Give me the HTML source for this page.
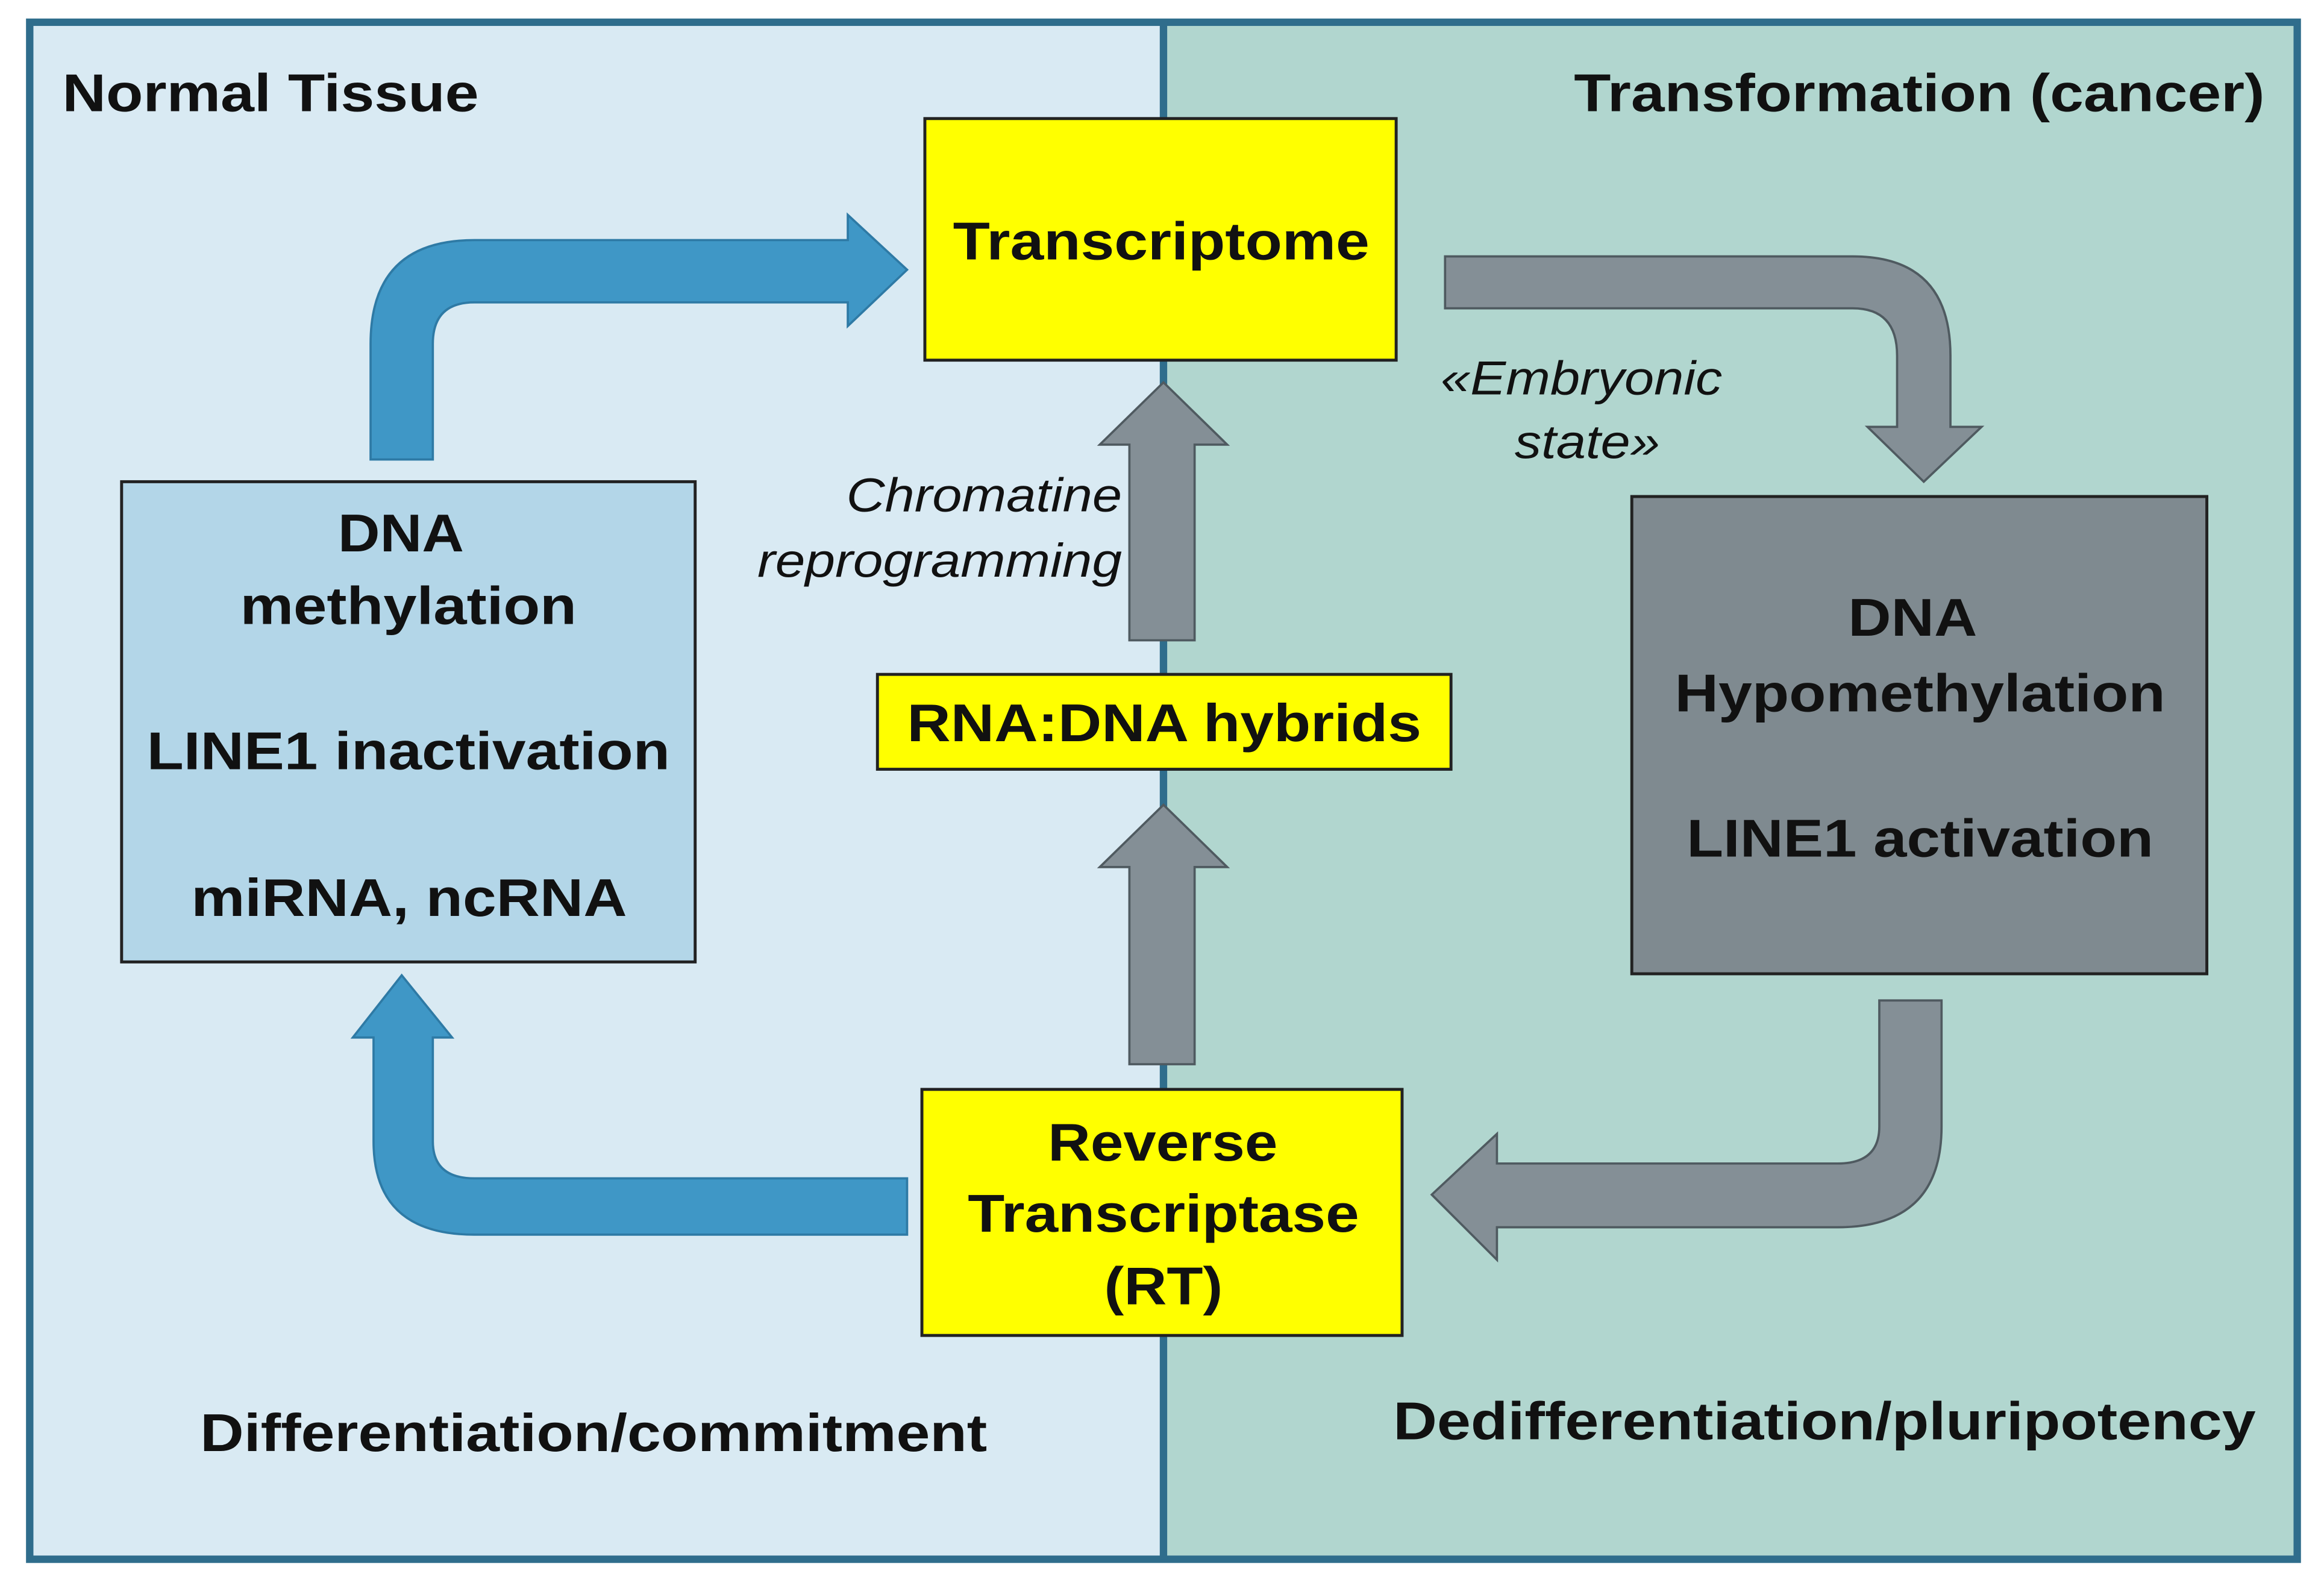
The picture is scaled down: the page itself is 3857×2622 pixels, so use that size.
<!DOCTYPE html>
<html><head><meta charset="utf-8"><style>
html,body{margin:0;padding:0;background:#fff;}
svg{display:block;}
text{font-family:"Liberation Sans","DejaVu Sans",sans-serif;font-weight:bold;fill:#111;}
.it{font-style:italic;font-weight:normal;}
</style></head><body>
<svg width="3857" height="2622" viewBox="0 0 1568 1066" xmlns="http://www.w3.org/2000/svg">
<rect x="0" y="0" width="1568" height="1066" fill="#fff"/>
<rect x="20" y="15" width="765" height="1037" fill="#d9eaf3"/>
<rect x="785" y="15" width="765" height="1037" fill="#b1d6cf"/>
<rect x="20" y="15" width="1530" height="1037" fill="none" stroke="#2f6d8c" stroke-width="5"/>
<line x1="785" y1="15" x2="785" y2="1052" stroke="#2f6d8c" stroke-width="5"/>

<text x="42" y="75" font-size="36" textLength="281" lengthAdjust="spacingAndGlyphs">Normal Tissue</text>
<text x="1062" y="75" font-size="36" textLength="466" lengthAdjust="spacingAndGlyphs">Transformation (cancer)</text>

<path d="M250,310 L250,232 Q250,162 320,162 L572,162 L572,145 L612,182 L572,220 L572,204 L320,204 Q292,204 292,232 L292,310 Z" fill="#3f97c6" stroke="#2e7aa5" stroke-width="1.5"/>
<path d="M612,795 L320,795 Q292,795 292,770 L292,700 L305,700 L271,658 L238,700 L252,700 L252,770 Q252,833 320,833 L612,833 Z" fill="#3f97c6" stroke="#2e7aa5" stroke-width="1.5"/>
<path d="M975,173 L1250,173 Q1316,173 1316,240 L1316,288 L1337,288 L1298,325 L1260,288 L1280,288 L1280,240 Q1280,208 1250,208 L975,208 Z" fill="#848f96" stroke="#4f5a60" stroke-width="1.5"/>
<path d="M1268,675 L1310,675 L1310,760 Q1310,828 1240,828 L1010,828 L1010,850 L966,806 L1010,765 L1010,785 L1240,785 Q1268,785 1268,760 Z" fill="#848f96" stroke="#4f5a60" stroke-width="1.5"/>
<path d="M762,432 L762,300 L742,300 L785,258 L828,300 L806,300 L806,432 Z" fill="#848f96" stroke="#4f5a60" stroke-width="1.5"/>
<path d="M762,718 L762,585 L742,585 L785,543 L828,585 L806,585 L806,718 Z" fill="#848f96" stroke="#4f5a60" stroke-width="1.5"/>

<rect x="624" y="80" width="318" height="163" fill="#ffff00" stroke="#222" stroke-width="2"/>
<text x="643" y="175" font-size="36" textLength="281" lengthAdjust="spacingAndGlyphs">Transcriptome</text>

<rect x="82" y="325" width="387" height="324" fill="#b3d6e8" stroke="#222" stroke-width="2"/>
<text x="228" y="372" font-size="36" textLength="85" lengthAdjust="spacingAndGlyphs">DNA</text>
<text x="162" y="421" font-size="36" textLength="227" lengthAdjust="spacingAndGlyphs">methylation</text>
<text x="99" y="519" font-size="36" textLength="353" lengthAdjust="spacingAndGlyphs">LINE1 inactivation</text>
<text x="129" y="618" font-size="36" textLength="294" lengthAdjust="spacingAndGlyphs">miRNA, ncRNA</text>

<text class="it" x="571" y="345" font-size="32" textLength="186" lengthAdjust="spacingAndGlyphs">Chromatine</text>
<text class="it" x="511" y="389" font-size="32" textLength="246" lengthAdjust="spacingAndGlyphs">reprogramming</text>

<rect x="592" y="455" width="387" height="64" fill="#ffff00" stroke="#222" stroke-width="2"/>
<text x="612" y="500" font-size="36" textLength="347" lengthAdjust="spacingAndGlyphs">RNA:DNA hybrids</text>

<text class="it" x="972" y="266" font-size="32" textLength="190" lengthAdjust="spacingAndGlyphs">«Embryonic</text>
<text class="it" x="1022" y="309" font-size="32" textLength="98" lengthAdjust="spacingAndGlyphs">state»</text>

<rect x="1101" y="335" width="388" height="322" fill="#7f8a90" stroke="#222" stroke-width="2"/>
<text x="1247" y="429" font-size="36" textLength="87" lengthAdjust="spacingAndGlyphs">DNA</text>
<text x="1130" y="480" font-size="36" textLength="331" lengthAdjust="spacingAndGlyphs">Hypomethylation</text>
<text x="1138" y="578" font-size="36" textLength="315" lengthAdjust="spacingAndGlyphs">LINE1 activation</text>

<rect x="622" y="735" width="324" height="166" fill="#ffff00" stroke="#222" stroke-width="2"/>
<text x="707" y="783" font-size="36" textLength="155" lengthAdjust="spacingAndGlyphs">Reverse</text>
<text x="653" y="831" font-size="36" textLength="264" lengthAdjust="spacingAndGlyphs">Transcriptase</text>
<text x="745" y="880" font-size="36" textLength="80" lengthAdjust="spacingAndGlyphs">(RT)</text>

<text x="135" y="979" font-size="36" textLength="531" lengthAdjust="spacingAndGlyphs">Differentiation/commitment</text>
<text x="940" y="971" font-size="36" textLength="582" lengthAdjust="spacingAndGlyphs">Dedifferentiation/pluripotency</text>
</svg>
</body></html>
